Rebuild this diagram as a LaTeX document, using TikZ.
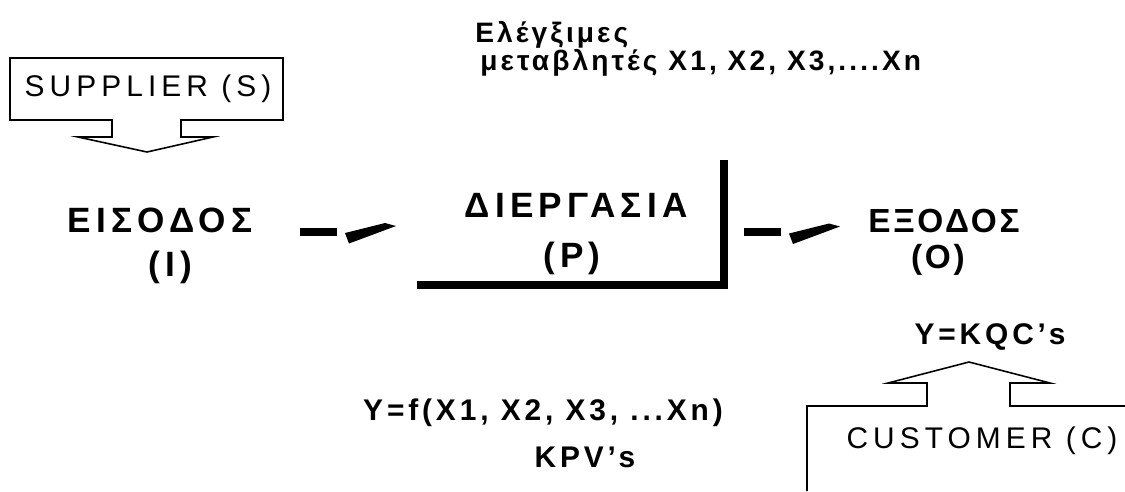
\documentclass[tikz,border=0pt]{standalone}
\usepackage{fontspec}
\setmainfont{Liberation Sans}
\newfontfamily\stagefont[LetterSpace=15]{Liberation Sans}
\newfontfamily\exitfont[LetterSpace=8]{Liberation Sans}
\newfontfamily\partyfont[LetterSpace=17]{Liberation Sans}
\newfontfamily\ctrlfont[LetterSpace=11]{Liberation Sans}
\newfontfamily\kpifont[LetterSpace=13]{Liberation Sans}
\tikzset{
  stage/.style={font=\stagefont\bfseries\fontsize{20}{24}\selectfont, inner sep=0pt},
  party/.style={font=\partyfont\fontsize{17}{20}\selectfont, inner sep=0pt},
  kpi/.style={font=\kpifont\bfseries\fontsize{17}{20}\selectfont, inner sep=0pt},
  ctrl/.style={font=\ctrlfont\bfseries\fontsize{16}{20}\selectfont, inner sep=0pt, anchor=base west},
  outline/.style={draw, line width=0.9pt, line join=miter},
  flowarrow/.pic={
    \fill (0,-4) rectangle (37,4);
    \fill (45,1.5) -- (85,-8.5) -- (96,-5.5) -- (49,12) -- cycle;
  }
}
\begin{document}
\begin{tikzpicture}[x=0.02cm, y=-0.02cm]
\useasboundingbox (0,0) rectangle (1125,491);
% controllable variables
\node[ctrl] (ctrla) at (475,42) {Ελέγξιμες};
\node[ctrl] (ctrlb) at (480,70) {μεταβλητές X1, X2, X3,....Xn};
% supplier
\node[party] (sup) at (148,89) {SUPPLIER (S)};
\draw[outline] (112,120) -- (10,120) -- (10,58) -- (283,58) -- (283,120) -- (181,120)
  -- (181,137) -- (213,137) -- (147,152) -- (78,137) -- (112,137) -- cycle;
% input - process - output
\node[stage] (in) at (160,220.5) {ΕΙΣΟΔΟΣ};
\node[stage] (inl) at (170,267) {(I)};
\node[stage] (proc) at (576,205) {ΔΙΕΡΓΑΣΙΑ};
\node[stage] (procl) at (572,258) {(P)};
\node[stage, font=\exitfont\bfseries\fontsize{19}{24}\selectfont, anchor=west] (out) at (868,221) {ΕΞΟΔΟΣ};
\node[stage, font=\exitfont\bfseries\fontsize{19}{24}\selectfont] (outl) at (938,260) {(O)};
\draw[line width=8pt*0.569] (417,284.5) -- (724,284.5) -- (724,160);
\coordinate (arra) at (300,231.5);
\coordinate (arrb) at (744,232);
\pic at (arra) {flowarrow};
\pic at (arrb) {flowarrow};
% key variables
\node[kpi] (kqc) at (990,337) {Y=KQC’s};
\node[kpi] (yf) at (543,413) {Y=f(X1, X2, X3, ...Xn)};
\node[kpi] (kpv) at (585,457) {KPV’s};
% customer
\node[party] (cus) at (982,441) {CUSTOMER (C)};
\draw[outline] (807,491) -- (807,406) -- (927,406) -- (927,383) -- (888,383) -- (969,362)
  -- (1050,383) -- (1010,383) -- (1010,406) -- (1125,406);
\end{tikzpicture}
\end{document}
